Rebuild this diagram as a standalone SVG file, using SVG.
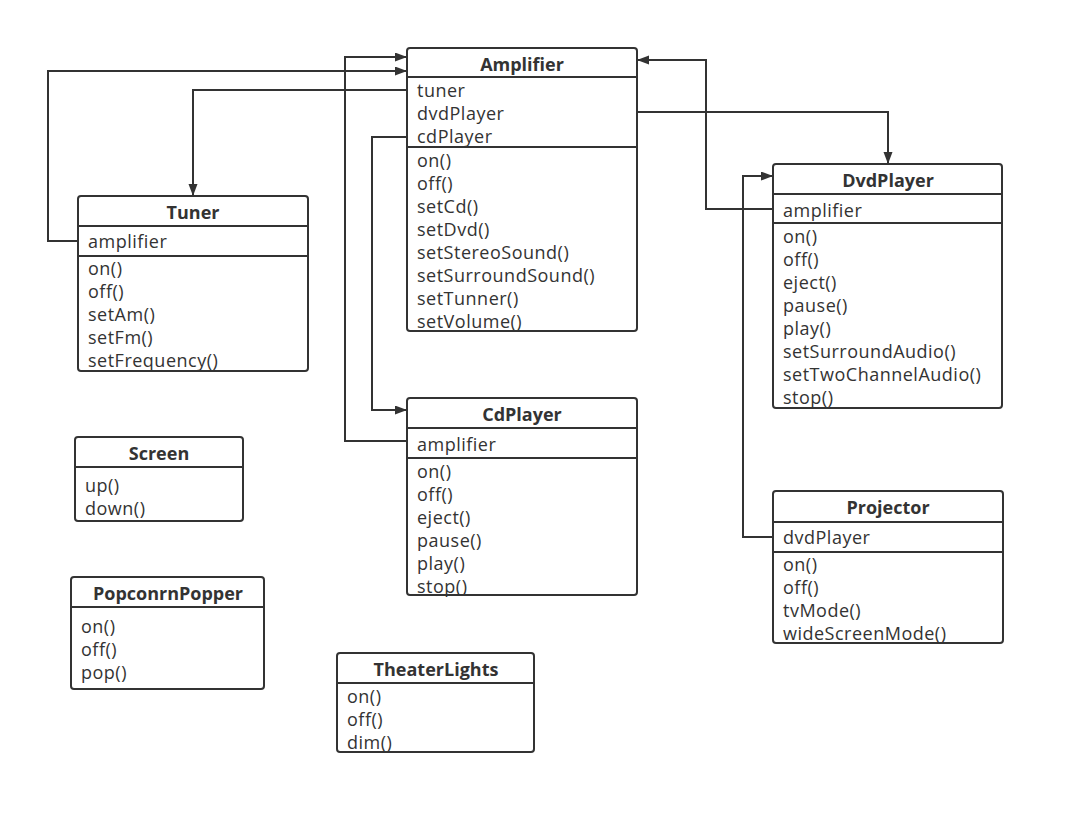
<svg xmlns="http://www.w3.org/2000/svg" width="1065" height="815" viewBox="0 0 1065 815">
<style>
.box{fill:#fff;stroke:#333;stroke-width:2}
.div{stroke:#333;stroke-width:2}
.t{font-family:"Open Sans","Noto Sans",sans-serif;font-size:18px;font-weight:bold;fill:#333;text-anchor:middle}
.m{font-family:"Open Sans","Noto Sans",sans-serif;font-size:18px;fill:#333;letter-spacing:0.5px}
.c{fill:none;stroke:#333;stroke-width:2}
</style>
<defs>
<marker id="arr" markerUnits="userSpaceOnUse" markerWidth="13" markerHeight="10" refX="12" refY="4.5" orient="auto">
<path d="M0,0 L12,4.5 L0,9 z" fill="#333"/>
</marker>
</defs>
<rect width="1065" height="815" fill="#fff"/>
<g id="connectors">
<polyline class="c" points="78,241 48,241 48,71 407,71" marker-end="url(#arr)"/>
<polyline class="c" points="407,90 193,90 193,196" marker-end="url(#arr)"/>
<polyline class="c" points="407,137 372,137 372,410 407,410" marker-end="url(#arr)"/>
<polyline class="c" points="407,441 345,441 345,57 407,57" marker-end="url(#arr)"/>
<polyline class="c" points="637,112 888,112 888,164" marker-end="url(#arr)"/>
<polyline class="c" points="773,209 706,209 706,60 637,60" marker-end="url(#arr)"/>
<polyline class="c" points="773,537 743,537 743,176 773,176" marker-end="url(#arr)"/>
</g>
<g id="amplifier">
<rect class="box" x="407" y="48" width="230" height="283" rx="3"/>
<line class="div" x1="407" y1="77" x2="637" y2="77"/>
<line class="div" x1="407" y1="147" x2="637" y2="147"/>
<text class="t" x="522" y="71">Amplifier</text>
<text class="m" x="417" y="97">tuner</text>
<text class="m" x="417" y="120">dvdPlayer</text>
<text class="m" x="417" y="143">cdPlayer</text>
<text class="m" x="417" y="167">on()</text>
<text class="m" x="417" y="190">off()</text>
<text class="m" x="417" y="213">setCd()</text>
<text class="m" x="417" y="236">setDvd()</text>
<text class="m" x="417" y="259">setStereoSound()</text>
<text class="m" x="417" y="282">setSurroundSound()</text>
<text class="m" x="417" y="305">setTunner()</text>
<text class="m" x="417" y="328">setVolume()</text>
</g>
<g id="tuner">
<rect class="box" x="78" y="196" width="230" height="175" rx="3"/>
<line class="div" x1="78" y1="226" x2="308" y2="226"/>
<line class="div" x1="78" y1="256" x2="308" y2="256"/>
<text class="t" x="193" y="219">Tuner</text>
<text class="m" x="88" y="248">amplifier</text>
<text class="m" x="88" y="275">on()</text>
<text class="m" x="88" y="298">off()</text>
<text class="m" x="88" y="321">setAm()</text>
<text class="m" x="88" y="344">setFm()</text>
<text class="m" x="88" y="367">setFrequency()</text>
</g>
<g id="dvdplayer">
<rect class="box" x="773" y="164" width="229" height="244" rx="3"/>
<line class="div" x1="773" y1="194" x2="1002" y2="194"/>
<line class="div" x1="773" y1="223" x2="1002" y2="223"/>
<text class="t" x="888" y="187">DvdPlayer</text>
<text class="m" x="783" y="217">amplifier</text>
<text class="m" x="783" y="243">on()</text>
<text class="m" x="783" y="266">off()</text>
<text class="m" x="783" y="289">eject()</text>
<text class="m" x="783" y="312">pause()</text>
<text class="m" x="783" y="335">play()</text>
<text class="m" x="783" y="358">setSurroundAudio()</text>
<text class="m" x="783" y="381">setTwoChannelAudio()</text>
<text class="m" x="783" y="404">stop()</text>
</g>
<g id="cdplayer">
<rect class="box" x="407" y="398" width="230" height="197" rx="3"/>
<line class="div" x1="407" y1="428" x2="637" y2="428"/>
<line class="div" x1="407" y1="458" x2="637" y2="458"/>
<text class="t" x="522" y="421">CdPlayer</text>
<text class="m" x="417" y="451">amplifier</text>
<text class="m" x="417" y="478">on()</text>
<text class="m" x="417" y="501">off()</text>
<text class="m" x="417" y="524">eject()</text>
<text class="m" x="417" y="547">pause()</text>
<text class="m" x="417" y="570">play()</text>
<text class="m" x="417" y="593">stop()</text>
</g>
<g id="screen">
<rect class="box" x="75" y="437" width="168" height="84" rx="3"/>
<line class="div" x1="75" y1="467" x2="243" y2="467"/>
<text class="t" x="159" y="460">Screen</text>
<text class="m" x="85" y="492">up()</text>
<text class="m" x="85" y="515">down()</text>
</g>
<g id="popcornpopper">
<rect class="box" x="71" y="577" width="193" height="112" rx="3"/>
<line class="div" x1="71" y1="607" x2="264" y2="607"/>
<text class="t" x="168" y="600">PopconrnPopper</text>
<text class="m" x="81" y="633">on()</text>
<text class="m" x="81" y="656">off()</text>
<text class="m" x="81" y="679">pop()</text>
</g>
<g id="theaterlights">
<rect class="box" x="337" y="653" width="197" height="99" rx="3"/>
<line class="div" x1="337" y1="683" x2="534" y2="683"/>
<text class="t" x="436" y="676">TheaterLights</text>
<text class="m" x="347" y="703">on()</text>
<text class="m" x="347" y="726">off()</text>
<text class="m" x="347" y="749">dim()</text>
</g>
<g id="projector">
<rect class="box" x="773" y="491" width="230" height="152" rx="3"/>
<line class="div" x1="773" y1="522" x2="1003" y2="522"/>
<line class="div" x1="773" y1="552" x2="1003" y2="552"/>
<text class="t" x="888" y="514">Projector</text>
<text class="m" x="783" y="544">dvdPlayer</text>
<text class="m" x="783" y="571">on()</text>
<text class="m" x="783" y="594">off()</text>
<text class="m" x="783" y="617">tvMode()</text>
<text class="m" x="783" y="640">wideScreenMode()</text>
</g>
</svg>
